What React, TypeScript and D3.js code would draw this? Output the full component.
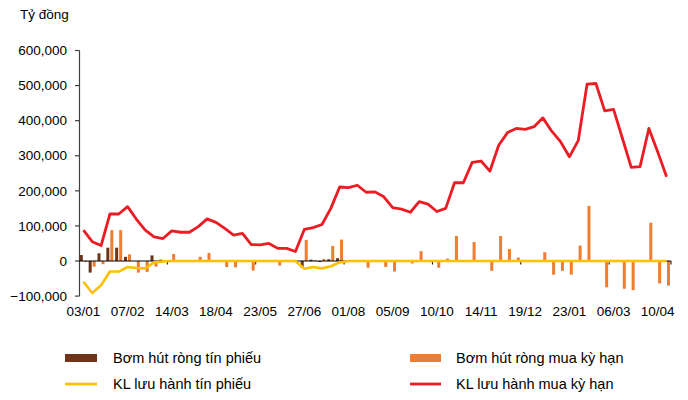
import React from "react";
import * as d3 from "d3";

const dates = [
  "03/01","10/01","17/01","24/01","31/01","07/02","15/02","22/02","29/02","07/03",
  "14/03","21/03","28/03","04/04","11/04","18/04","25/04","02/05","09/05","16/05",
  "23/05","30/05","06/06","13/06","20/06","27/06","04/07","11/07","18/07","25/07",
  "01/08","08/08","15/08","22/08","29/08","05/09","12/09","19/09","26/09","03/10",
  "10/10","17/10","24/10","31/10","07/11","14/11","21/11","28/11","05/12","12/12",
  "19/12","26/12","02/01","09/01","16/01","23/01","06/02","13/02","20/02","27/02",
  "06/03","13/03","20/03","27/03","03/04","10/04","17/04"
];

// values in thousands of tỷ đồng (x1000)
const netBills = [
  17,-33,22,38,38,12,0,0,16,4,
  0,0,0,0,0,0,0,0,0,0,
  0,0,0,0,0,-20,4,-3,5,8,
  0,0,0,0,0,0,0,0,0,0,
  0,0,0,0,0,0,0,0,0,0,
  0,0,0,0,0,0,0,0,0,0,
  0,0,0,0,0,0,0
];
const netRepo = [
  -3,-16,-9,88,88,19,-33,-31,-16,2,
  20,-2,0,12,23,-2,-17,-18,0,-27,
  0,0,-13,0,0,60,2,6,43,61,
  0,2,-19,0,-17,-30,0,-7,28,0,
  -19,7,71,0,54,0,-28,71,34,10,
  0,1,25,-39,-28,-39,44,157,0,-75,
  0,-79,-83,0,109,-64,-70
];
const billsOutstanding = [
  -59,-91,-69,-30,-30,-17,-20,-21,-4,-1,
  0,0,0,0,0,0,0,0,0,0,
  0,0,0,0,0,-22,-17,-21,-15,-4,
  0,0,0,0,0,0,0,0,0,0,
  0,0,0,0,0,0,0,0,0,0,
  0,0,0,0,0,0,0,0,0,0,
  0,0,0,0,0,0,0
];
const repoOutstanding = [
  88,55,44,134,134,155,119,88,69,64,
  86,82,82,98,120,110,93,74,79,47,
  46,50,36,36,27,90,95,104,150,211,
  209,216,196,197,183,152,148,139,169,162,
  141,150,223,223,281,285,256,330,366,378,
  375,383,408,370,340,297,343,504,506,428,
  432,350,267,269,378,311,240
];
const yTicks = [-100000, 0, 100000, 200000, 300000, 400000, 500000, 600000];
const labelEvery = 5;
const tickEvery = 10;

const seriesNames = [
  "Bơm hút ròng tín phiếu",
  "Bơm hút ròng mua kỳ hạn",
  "KL lưu hành tín phiếu",
  "KL lưu hành mua kỳ hạn",
];

const C_BROWN = "#6E3419";
const C_ORANGE = "#ED7D31";
const C_YELLOW = "#FFC000";
const C_RED = "#EC1C24";
const FONT = "'Liberation Sans', Arial, sans-serif";

export default function App() {
  const W = 688, H = 400;
  const x = d3.scaleBand<string>().domain(dates).range([79, 671]).paddingInner(0).paddingOuter(0);
  const bw = x.bandwidth();
  const cx = (i: number) => (x(dates[i]) as number) + bw / 2;
  const y = d3.scaleLinear().domain([-100000, 600000]).range([296.1, 50.5]);
  const fmt = d3.format(",");
  const line = d3.line<number>().x((_, i) => cx(i)).y((v) => y(v * 1000));

  return (
    <svg width={W} height={H} style={{ position: "absolute", left: 0, top: 0, background: "#fff" }}
      fontFamily={FONT}>
      <text x={20} y={19} fontSize={13.5} fill="#000">Tỷ đồng</text>
      {/* y axis */}
      <line x1={79.5} x2={79.5} y1={y(600000)} y2={y(-100000)} stroke="#404040" strokeWidth={1.2} />
      {yTicks.map((t) => (
        <g key={t}>
          <line x1={75} x2={79.5} y1={y(t)} y2={y(t)} stroke="#404040" strokeWidth={1.2} />
          <text x={67} y={y(t)} dy="0.35em" textAnchor="end" fontSize={13.5} fill="#000">{fmt(t)}</text>
        </g>
      ))}
      {/* bars */}
      {netBills.map((v, i) => v === 0 ? null : (
        <rect key={"b" + i} x={cx(i) - 3.6} width={3} y={Math.min(y(v * 1000), y(0))}
          height={Math.abs(y(v * 1000) - y(0))} fill={C_BROWN} />
      ))}
      {netRepo.map((v, i) => v === 0 ? null : (
        <rect key={"o" + i} x={cx(i) + 0.4} width={3} y={Math.min(y(v * 1000), y(0))}
          height={Math.abs(y(v * 1000) - y(0))} fill={C_ORANGE} />
      ))}
      {/* x axis */}
      <line x1={79} x2={671} y1={y(0)} y2={y(0)} stroke="#000" strokeWidth={1} />
      {dates.map((d, i) => (i % tickEvery === 0 && i > 0) ? (
        <line key={"t" + i} x1={x(d) as number} x2={x(d) as number} y1={y(0)} y2={y(0) + 3.5} stroke="#000" strokeWidth={1} />
      ) : null)}
      <line x1={671} x2={671} y1={y(0)} y2={y(0) + 3.5} stroke="#000" strokeWidth={1} />
      {dates.map((d, i) => i % labelEvery === 0 ? (
        <text key={"l" + i} x={cx(i)} y={316} textAnchor="middle" fontSize={13.5} fill="#000">{d}</text>
      ) : null)}
      {/* lines */}
      <path d={line(billsOutstanding) || ""} fill="none" stroke={C_YELLOW} strokeWidth={2.6} strokeLinejoin="round" />
      <path d={line(repoOutstanding) || ""} fill="none" stroke={C_RED} strokeWidth={2.8} strokeLinejoin="round" />
      {/* legend */}
      <rect x={65} y={354} width={32} height={8} fill={C_BROWN} />
      <text x={113} y={358} dy="0.35em" fontSize={14.5} fill="#000">{seriesNames[0]}</text>
      <rect x={410} y={354} width={31} height={8} fill={C_ORANGE} />
      <text x={456} y={358} dy="0.35em" fontSize={14.5} fill="#000">{seriesNames[1]}</text>
      <line x1={65} x2={97} y1={384} y2={384} stroke={C_YELLOW} strokeWidth={2.6} />
      <text x={113} y={384} dy="0.35em" fontSize={14.5} fill="#000">{seriesNames[2]}</text>
      <line x1={410} x2={441} y1={384} y2={384} stroke={C_RED} strokeWidth={2.8} />
      <text x={456} y={384} dy="0.35em" fontSize={14.5} fill="#000">{seriesNames[3]}</text>
    </svg>
  );
}
